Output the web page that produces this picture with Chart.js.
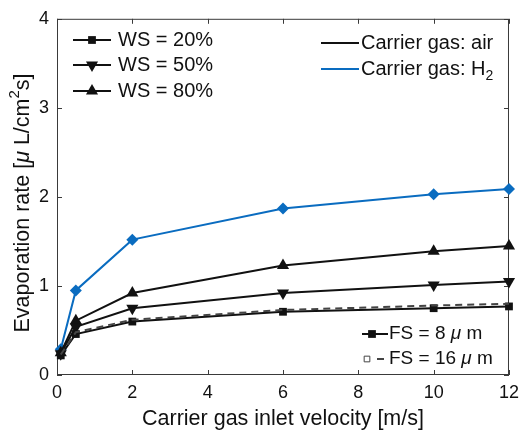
<!DOCTYPE html>
<html lang="en">
<head>
<meta charset="UTF-8">
<title>Evaporation rate</title>
<script src="https://cdn.jsdelivr.net/npm/chart.js@4.4.0/dist/chart.umd.min.js"></script>
<style>
    body { margin: 0; background: #fff; }
    .graph-container { width: 526px; height: 433px; }
</style>
</head>
<body>
<div class="graph-container"><canvas id="myChart"></canvas></div>
<script>
// inlet velocity [m/s]
const velocity = [0.1, 0.5, 2, 6, 10, 12];
// evaporation rate [uL/cm2 s]
const rateH2 = [0.29, 0.95, 1.52, 1.87, 2.03, 2.09];
const rateWS80 = [0.25, 0.61, 0.92, 1.23, 1.39, 1.45];
const rateWS50 = [0.24, 0.54, 0.75, 0.92, 1.01, 1.05];
const rateWS20 = [0.22, 0.46, 0.60, 0.71, 0.75, 0.77];
const rateFS16 = [0.23, 0.48, 0.62, 0.73, 0.78, 0.80];

const xTicks = [0, 2, 4, 6, 8, 10, 12];
const yTicks = [0, 1, 2, 3, 4];

const BLUE = '#0a6cc0';
const INK = '#111';
const AXIS = '#3a3a3a';
const FONT = "'Liberation Sans', Arial, sans-serif";

function pts(ys) {
    return velocity.map((v, i) => ({ x: v, y: ys[i] }));
}

function series(label, ys, color, style, radius, rotation) {
    return {
        label: label,
        data: pts(ys),
        borderColor: color,
        backgroundColor: color,
        borderWidth: 2,
        pointStyle: style,
        pointRadius: radius,
        pointRotation: rotation || 0,
        pointBorderWidth: 0,
        pointBackgroundColor: color,
        tension: 0,
        clip: false
    };
}

// draws a run of text pieces: [text, font, dy]
function drawPieces(ctx, x, y, pieces) {
    pieces.forEach(p => {
        ctx.font = p[1];
        ctx.fillText(p[0], x, y + (p[2] || 0));
        x += ctx.measureText(p[0]).width;
    });
}

function piecesWidth(ctx, pieces) {
    let w = 0;
    pieces.forEach(p => { ctx.font = p[1]; w += ctx.measureText(p[0]).width; });
    return w;
}

const decorations = {
    id: 'decorations',
    beforeDatasetsDraw(chart) {
        const ctx = chart.ctx;
        const a = chart.chartArea;
        const xs = chart.scales.x, ys = chart.scales.y;
        ctx.save();
        ctx.strokeStyle = AXIS;
        ctx.lineWidth = 1;
        ctx.strokeRect(a.left + 0.5, a.top + 0.5, a.right - a.left - 1, a.bottom - a.top - 1);
        ctx.beginPath();
        xTicks.forEach(t => {
            const px = Math.round(xs.getPixelForValue(t)) + 0.5;
            ctx.moveTo(px, a.bottom); ctx.lineTo(px, a.bottom - 5);
            ctx.moveTo(px, a.top); ctx.lineTo(px, a.top + 5);
        });
        yTicks.forEach(t => {
            const py = Math.round(ys.getPixelForValue(t)) + 0.5;
            ctx.moveTo(a.left, py); ctx.lineTo(a.left + 5, py);
            ctx.moveTo(a.right, py); ctx.lineTo(a.right - 5, py);
        });
        ctx.stroke();

        // y axis title, rotated, with italic mu and superscript 2
        const tf = '21.5px ' + FONT;
        const yTitle = [['Evaporation rate [', tf], ['\u03bc', 'italic ' + tf], [' L/cm', tf],
                        ['2', '15px ' + FONT, -8], ['s]', tf]];
        ctx.fillStyle = INK;
        ctx.textBaseline = 'middle';
        ctx.translate(23, 203);
        ctx.rotate(-Math.PI / 2);
        drawPieces(ctx, -piecesWidth(ctx, yTitle) / 2, 0, yTitle);
        ctx.restore();
    },
    afterDraw(chart) {
        const ctx = chart.ctx;
        const dp = Chart.helpers.drawPoint;
        ctx.save();
        ctx.textBaseline = 'middle';
        ctx.fillStyle = INK;
        ctx.strokeStyle = INK;

        // WS legend (top left)
        const ws = [['WS = 20%', 'rect', 5.5, 0, 40],
                    ['WS = 50%', 'triangle', 7, 180, 65],
                    ['WS = 80%', 'triangle', 7, 0, 91]];
        ws.forEach(e => {
            ctx.lineWidth = 2;
            ctx.beginPath(); ctx.moveTo(73, e[4]); ctx.lineTo(111, e[4]); ctx.stroke();
            dp(ctx, { pointStyle: e[1], radius: e[2], rotation: e[3], borderWidth: 0 }, 92, e[4]);
            ctx.font = '20px ' + FONT;
            ctx.fillText(e[0], 118, e[4]);
        });

        // carrier gas legend (top right)
        ctx.lineWidth = 2;
        ctx.strokeStyle = INK;
        ctx.beginPath(); ctx.moveTo(321, 43); ctx.lineTo(359, 43); ctx.stroke();
        ctx.strokeStyle = BLUE;
        ctx.beginPath(); ctx.moveTo(321, 69); ctx.lineTo(359, 69); ctx.stroke();
        drawPieces(ctx, 361, 43, [['Carrier gas: air', '20px ' + FONT]]);
        drawPieces(ctx, 361, 69, [['Carrier gas: H', '20px ' + FONT], ['2', '14px ' + FONT, 7]]);

        // FS legend (bottom right)
        ctx.strokeStyle = INK;
        ctx.lineWidth = 2;
        ctx.beginPath(); ctx.moveTo(362, 334); ctx.lineTo(388, 334); ctx.stroke();
        dp(ctx, { pointStyle: 'rect', radius: 5.5, rotation: 0, borderWidth: 0 }, 372, 334);
        ctx.strokeStyle = '#444';
        ctx.beginPath(); ctx.moveTo(377, 359); ctx.lineTo(384, 359); ctx.stroke();
        ctx.lineWidth = 1;
        ctx.fillStyle = '#fff';
        dp(ctx, { pointStyle: 'rect', radius: 4, rotation: 0, borderWidth: 1 }, 367, 359);
        ctx.fillStyle = INK;
        const it = 'italic 19px ' + FONT, rg = '19px ' + FONT;
        drawPieces(ctx, 389, 334, [['FS = 8 ', rg], ['\u03bc', it], [' m', rg]]);
        drawPieces(ctx, 389, 359, [['FS = 16 ', rg], ['\u03bc', it], [' m', rg]]);
        ctx.restore();
    }
};

const ctx = document.getElementById('myChart').getContext('2d');

const fs16 = series('FS = 16 um', rateFS16, '#444', 'rect', 0, 0);
fs16.borderDash = [7, 5];

const chart = new Chart(ctx, {
    type: 'line',
    data: {
        datasets: [
            fs16,
            series('WS = 20%', rateWS20, INK, 'rect', 5.5, 0),
            series('WS = 50%', rateWS50, INK, 'triangle', 7, 180),
            series('WS = 80%', rateWS80, INK, 'triangle', 7, 0),
            series('Carrier gas: H2', rateH2, BLUE, 'rectRot', 6, 0)
        ]
    },
    options: {
        responsive: true,
        maintainAspectRatio: false,
        animation: false,
        layout: { padding: { top: 15, right: 11, left: 0, bottom: 0 } },
        plugins: {
            legend: { display: false },
            tooltip: { enabled: false }
        },
        scales: {
            x: {
                type: 'linear',
                min: 0,
                max: 12,
                afterBuildTicks: s => { s.ticks = xTicks.map(v => ({ value: v })); },
                afterFit: s => { s.height = 58; },
                grid: { display: false, drawTicks: false },
                border: { display: false },
                ticks: { color: INK, padding: 7, maxRotation: 0, font: { family: FONT, size: 18 } },
                title: {
                    display: true,
                    text: 'Carrier gas inlet velocity [m/s]',
                    color: INK,
                    padding: { top: 0, bottom: 1 },
                    font: { family: FONT, size: 21.5 }
                }
            },
            y: {
                min: 0,
                max: 4,
                afterBuildTicks: s => { s.ticks = yTicks.map(v => ({ value: v })); },
                afterFit: s => { s.width = 57; },
                grid: { display: false, drawTicks: false },
                border: { display: false },
                ticks: { color: INK, padding: 8, font: { family: FONT, size: 18 } },
                title: { display: false }
            }
        }
    },
    plugins: [decorations]
});
</script>
</body>
</html>
